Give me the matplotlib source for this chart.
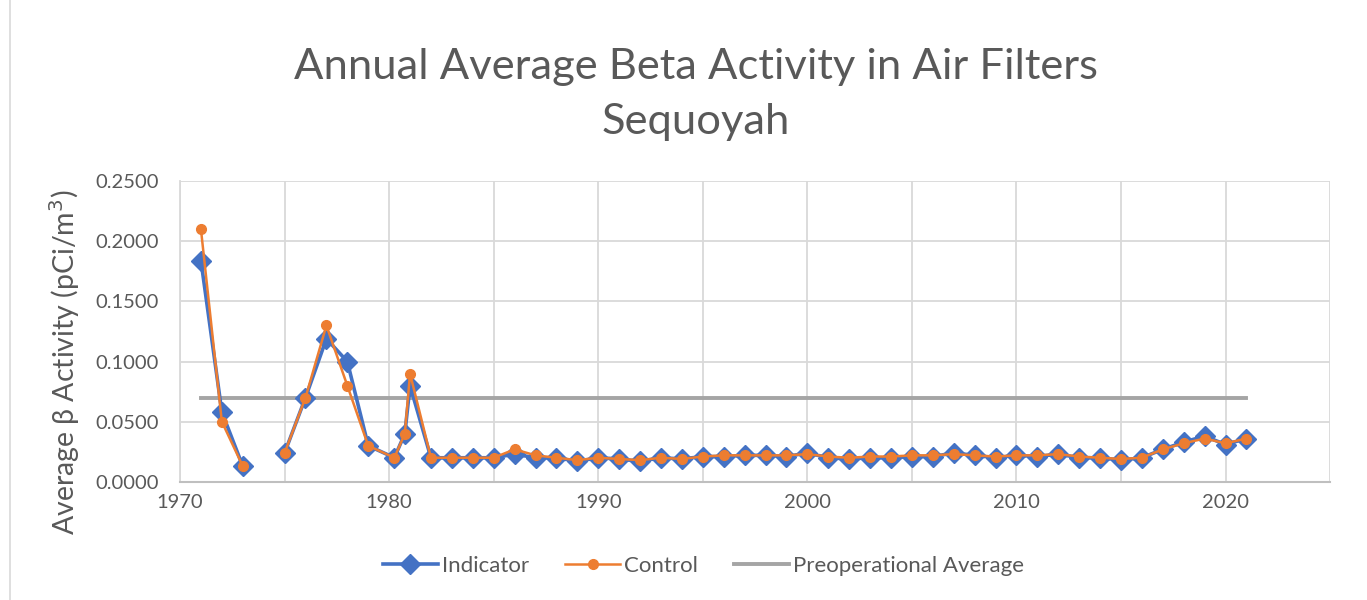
import numpy as np
import matplotlib
matplotlib.use("Agg")
import matplotlib.pyplot as plt

years = [1971, 1972, 1973, 1974, 1975, 1976, 1977, 1978, 1979, 1980.25, 1980.75, 1981,
         1982, 1983, 1984, 1985, 1986, 1987, 1988, 1989, 1990, 1991, 1992, 1993, 1994,
         1995, 1996, 1997, 1998, 1999, 2000, 2001, 2002, 2003, 2004, 2005, 2006, 2007,
         2008, 2009, 2010, 2011, 2012, 2013, 2014, 2015, 2016, 2017, 2018, 2019, 2020, 2021]
indicator = [0.184, 0.058, 0.013, np.nan, 0.024, 0.070, 0.119, 0.100, 0.030, 0.020, 0.040, 0.080,
             0.020, 0.020, 0.020, 0.020, 0.023, 0.020, 0.020, 0.017, 0.020, 0.019, 0.017, 0.020, 0.019,
             0.021, 0.021, 0.022, 0.022, 0.021, 0.024, 0.020, 0.019, 0.020, 0.020, 0.021, 0.021, 0.024,
             0.022, 0.020, 0.022, 0.021, 0.023, 0.020, 0.020, 0.018, 0.020, 0.027, 0.033, 0.038, 0.031, 0.036]
control = [0.210, 0.050, 0.013, np.nan, 0.024, 0.070, 0.130, 0.080, 0.030, 0.020, 0.040, 0.090,
           0.020, 0.020, 0.020, 0.020, 0.027, 0.022, 0.020, 0.018, 0.020, 0.019, 0.018, 0.020, 0.019,
           0.021, 0.022, 0.022, 0.022, 0.022, 0.023, 0.021, 0.020, 0.021, 0.021, 0.022, 0.022, 0.023,
           0.022, 0.021, 0.022, 0.022, 0.023, 0.021, 0.020, 0.019, 0.020, 0.027, 0.032, 0.036, 0.032, 0.036]
preop_years = [1971, 2021]
preop = [0.07, 0.07]

xticks = [1970, 1975, 1980, 1985, 1990, 1995, 2000, 2005, 2010, 2015, 2020, 2025]
xlabels = ["1970", "", "1980", "", "1990", "", "2000", "", "2010", "", "2020", ""]
yticks = [0.0, 0.05, 0.10, 0.15, 0.20, 0.25]

txt = "#595959"
plt.rcParams["font.family"] = ["Lato", "DejaVu Sans"]

fig = plt.figure(figsize=(13.67, 6), dpi=100)
ax = fig.add_axes([0.1317, 0.197, 0.8413, 0.501])

ax.plot(years, indicator, color="#4472C4", lw=2.6, marker="D", ms=10.5, label="Indicator", zorder=3)
ax.plot(years, control, color="#ED7D31", lw=1.8, marker="o", ms=7, label="Control", zorder=4)
ax.plot(preop_years, preop, color="#A5A5A5", lw=2.8, label="Preoperational Average", zorder=2)

ax.set_xlim(1970, 2025)
ax.set_ylim(0, 0.25)
ax.set_xticks(xticks)
ax.set_xticklabels(xlabels)
ax.set_yticks(yticks)
ax.set_yticklabels(["%.4f" % v for v in yticks])
ax.tick_params(length=0, labelsize=14.5, colors=txt)
ax.tick_params(axis="y", pad=15)
ax.tick_params(axis="x", pad=9)
ax.grid(True, color="#D9D9D9", lw=1.3)
ax.set_axisbelow(True)
for s in ["top", "right"]:
    ax.spines[s].set_visible(False)
ax.spines["left"].set_color("#D9D9D9")
ax.spines["left"].set_linewidth(1.3)
ax.spines["bottom"].set_color("#BFBFBF")
ax.spines["bottom"].set_linewidth(1.5)

fig.text(65 / 1367, 1 - 362 / 600, "Average β Activity (pCi/m$^3$)", rotation=90, fontsize=20.5,
         color=txt, ha="center", va="center")
fig.text(0.509, 0.843, "Annual Average Beta Activity in Air Filters\nSequoyah", fontsize=31.3,
         color=txt, ha="center", va="center", linespacing=1.55)

fig.legend(loc="center", bbox_to_anchor=(0.5146, 0.057), ncol=3, frameon=False, fontsize=16,
           labelcolor=txt, handlelength=2.5, handletextpad=0.18, columnspacing=1.6)

fig.add_artist(plt.Line2D([0.0075, 0.0075], [0, 1], color="#D9D9D9", lw=1.2))
fig.savefig("out.png", dpi=100)
